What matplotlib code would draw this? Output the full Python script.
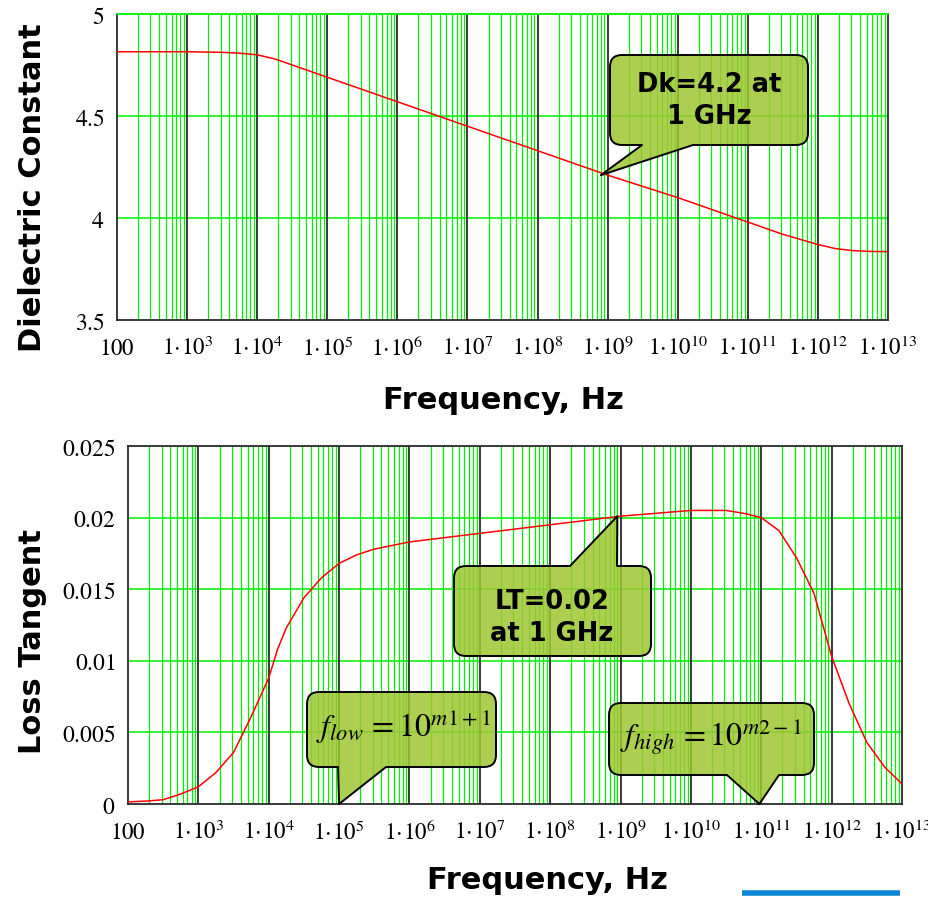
import numpy as np
import matplotlib
matplotlib.use("Agg")
import matplotlib.pyplot as plt
from matplotlib.path import Path
from matplotlib.patches import PathPatch

plt.rcParams["mathtext.fontset"] = "stix"

# ── data ─────────────────────────────────────────────────────────
dk_log_f = [2, 2.5, 3, 3.5, 3.75, 4, 4.25, 4.5, 5, 5.5, 6, 6.5, 7, 7.5, 8,
            8.5, 9, 9.5, 10, 10.5, 11, 11.5, 12, 12.25, 12.5, 12.75, 13]
dk_vals = [4.815, 4.815, 4.815, 4.812, 4.808, 4.80, 4.78, 4.75, 4.69, 4.63,
           4.57, 4.51, 4.45, 4.39, 4.33, 4.27, 4.21, 4.155, 4.10, 4.04,
           3.98, 3.92, 3.87, 3.85, 3.84, 3.836, 3.835]

lt_log_f = [2, 2.25, 2.5, 2.75, 3, 3.25, 3.5, 3.75, 4, 4.125, 4.25, 4.5,
            4.75, 5, 5.25, 5.5, 6, 6.5, 7, 7.5, 8, 8.5, 9, 9.5, 10, 10.5,
            10.75, 11, 11.25, 11.5, 11.75, 12, 12.25, 12.5, 12.75, 13]
lt_vals = [0.00015, 0.0002, 0.0003, 0.0007, 0.0012, 0.0022, 0.0036, 0.0061,
           0.0088, 0.0108, 0.0123, 0.0144, 0.0158, 0.0168, 0.0174, 0.0178,
           0.0183, 0.0186, 0.0189, 0.0192, 0.0195, 0.0198, 0.0201, 0.0203,
           0.0205, 0.0205, 0.0203, 0.0200, 0.0191, 0.0172, 0.0147, 0.0103,
           0.0070, 0.0043, 0.0026, 0.0014]

x_decades = list(range(2, 14))
x_tick_labels = ["$100$"] + [rf"$1\!\cdot\!10^{{{k}}}$" for k in range(3, 14)]

dk_yticks = [3.5, 4.0, 4.5, 5.0]
dk_ylabels = ["3.5", "4", "4.5", "5"]
lt_yticks = [0, 0.005, 0.01, 0.015, 0.02, 0.025]
lt_ylabels = ["0", "0.005", "0.01", "0.015", "0.02", "0.025"]

GREEN = "#00f000"
DARK = "#2a2a2a"
FILL = (0.62, 0.78, 0.20, 0.85)

W, H = 929, 897
fig = plt.figure(figsize=(W / 100, H / 100), dpi=100)
ax1 = fig.add_axes([117 / W, 1 - 320 / H, 771 / W, 306 / H])
ax2 = fig.add_axes([128 / W, 1 - 804 / H, 774 / W, 358 / H])


def style(ax, yticks, ylabels, green_top):
    ax.set_xscale("log")
    ax.set_xlim(10 ** x_decades[0], 10 ** x_decades[-1])
    ax.set_ylim(yticks[0], yticks[-1])
    for k in x_decades[:-1]:
        for m in range(2, 10):
            ax.axvline(m * 10.0 ** k, color=GREEN, lw=0.9, zorder=1)
    for k in x_decades[1:-1]:
        ax.axvline(10.0 ** k, color=DARK, lw=1.3, zorder=1.5)
    for y in yticks[1:-1]:
        ax.axhline(y, color=GREEN, lw=1.1, zorder=1.2)
    for s in ax.spines.values():
        s.set_color(DARK)
        s.set_linewidth(1.3)
    if green_top:
        ax.spines["top"].set_color(GREEN)
    ax.set_xticks([10.0 ** k for k in x_decades])
    ax.set_xticklabels(x_tick_labels)
    ax.xaxis.set_minor_locator(matplotlib.ticker.NullLocator())
    ax.set_yticks(yticks)
    ax.set_yticklabels([f"${t}$" for t in ylabels])
    ax.tick_params(axis="x", length=0, pad=12, labelsize=16.5)
    ax.tick_params(axis="y", length=0, pad=9, labelsize=17)


style(ax1, dk_yticks, dk_ylabels, True)
style(ax2, lt_yticks, lt_ylabels, False)

ax1.plot(10.0 ** np.array(dk_log_f), dk_vals, color="red", lw=1.1, zorder=3)
ax2.plot(10.0 ** np.array(lt_log_f), lt_vals, color="red", lw=1.1, zorder=3)

lab = dict(fontsize=22, fontweight="bold", family="DejaVu Sans",
           ha="center", va="center")
fig.text(33 / W, 1 - 188 / H, "Dielectric Constant", rotation=90, **lab)
fig.text(33 / W, 1 - 641 / H, "Loss Tangent", rotation=90, **lab)
fig.text(503 / W, 1 - 400 / H, "Frequency, Hz", **lab)
fig.text(547 / W, 1 - 880 / H, "Frequency, Hz", **lab)

# ── overlay in pixel coordinates for the callouts ────────────────
ov = fig.add_axes([0, 0, 1, 1], zorder=10)
ov.set_xlim(0, W)
ov.set_ylim(H, 0)
ov.axis("off")
ov.patch.set_alpha(0)


def to_px(ax, x, y):
    d = ax.transData.transform((x, y))
    return tuple(ov.transData.inverted().transform(d))


def callout(box, tail_edge, xa, xb, tip, r=12):
    x0, y0, x1, y1 = box
    v, c = [], []

    def add(p, code):
        v.append(p)
        c.append(code)

    add((x0 + r, y0), Path.MOVETO)
    if tail_edge == "top":
        add((xa, y0), Path.LINETO)
        add(tip, Path.LINETO)
        add((xb, y0), Path.LINETO)
    add((x1 - r, y0), Path.LINETO)
    add((x1, y0), Path.CURVE3)
    add((x1, y0 + r), Path.CURVE3)
    add((x1, y1 - r), Path.LINETO)
    add((x1, y1), Path.CURVE3)
    add((x1 - r, y1), Path.CURVE3)
    if tail_edge == "bottom":
        add((xb, y1), Path.LINETO)
        add(tip, Path.LINETO)
        add((xa, y1), Path.LINETO)
    add((x0 + r, y1), Path.LINETO)
    add((x0, y1), Path.CURVE3)
    add((x0, y1 - r), Path.CURVE3)
    add((x0, y0 + r), Path.LINETO)
    add((x0, y0), Path.CURVE3)
    add((x0 + r, y0), Path.CURVE3)
    add((x0 + r, y0), Path.CLOSEPOLY)
    ov.add_patch(PathPatch(Path(v, c), fc=FILL, ec="black", lw=1.4,
                           joinstyle="round"))


callout((610, 55, 808, 145), "bottom", 642, 693, to_px(ax1, 8e8, 4.21))
ov.text(709, 101, "Dk=4.2 at\n1 GHz", fontsize=18.5, fontweight="bold",
        family="DejaVu Sans", ha="center", va="center", linespacing=1.3)

callout((454, 566, 651, 656), "top", 570, 617, to_px(ax2, 9e8, 0.0201))
ov.text(552, 618, "LT=0.02\nat 1 GHz", fontsize=18.5, fontweight="bold",
        family="DejaVu Sans", ha="center", va="center", linespacing=1.3)

callout((307, 692, 496, 767), "bottom", 338, 386, to_px(ax2, 1e5, 0))
ov.text(403, 727, r"$f_{low}\,=10^{m1+1}$", fontsize=23,
        ha="center", va="center")

callout((609, 703, 814, 775), "bottom", 727, 779, to_px(ax2, 9.4e10, 0))
ov.text(711, 737, r"$f_{high}\,=10^{m2-1}$", fontsize=23,
        ha="center", va="center")

ov.plot([742, 900], [893, 893], color="#0b86d4", lw=4, solid_capstyle="butt")

fig.savefig("out.png", dpi=100)
